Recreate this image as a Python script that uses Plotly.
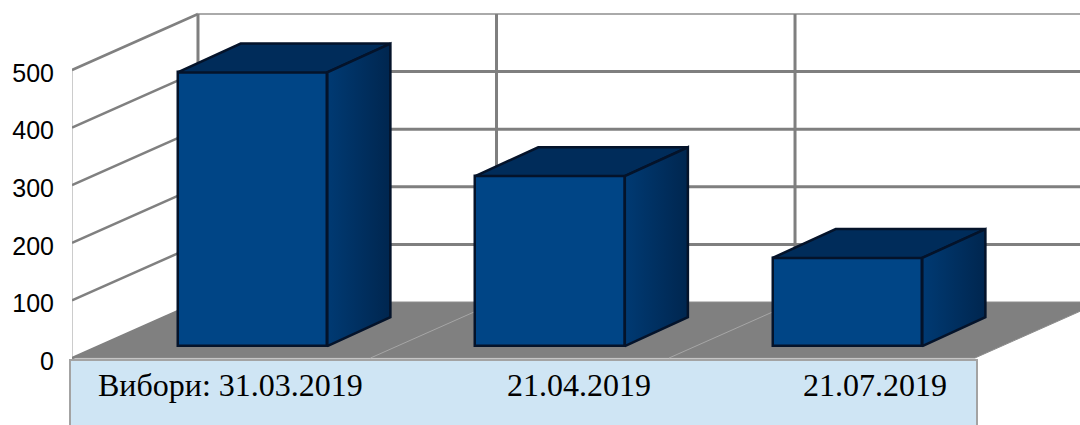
import plotly.graph_objects as go

# chart values
positions = [0, 1, 2]
turnout = [475, 295, 153]
date_labels = ["Вибори: 31.03.2019", "21.04.2019", "21.07.2019"]
y_ticks = [0, 100, 200, 300, 400, 500]

# fake 3d geometry, in axis units
X_RANGE = [-0.6067, 2.7815]
Y_RANGE = [-116.3, 621.5]
WALL_DX = 0.4235
WALL_DY = 97.2
BAR_BASE = 20.8
BAR_WIDTH = 0.503
BAR_DX = 0.212
BAR_DY = 50
CELL_W = 1.0034
FLOOR_W = 3.035

FRONT = "#004586"
EDGE = "#04132a"
GRID = "#7f7f7f"


def polyline(xs, ys, color, width, axes="1"):
    return go.Scatter(
        x=xs, y=ys, mode="lines", line=dict(color=color, width=width),
        hoverinfo="skip", showlegend=False,
        xaxis="x" if axes == "1" else "x2", yaxis="y" if axes == "1" else "y2",
    )


fig = go.Figure()

x0 = X_RANGE[0]
x_back = x0 + WALL_DX
top = y_ticks[-1]

# floor
fig.add_trace(go.Scatter(
    x=[x0, x_back, x_back + FLOOR_W, x0 + FLOOR_W, x0],
    y=[0, WALL_DY, WALL_DY, 0, 0],
    fill="toself", fillcolor="#808080", mode="lines", line=dict(color="#8c8c8c", width=1),
    hoverinfo="skip", showlegend=False,
))

# lines across the floor
for i in [1, 2]:
    fig.add_trace(polyline([x0 + i * CELL_W, x_back + i * CELL_W], [0, WALL_DY], "#a6a6a6", 1))

# left wall
fig.add_trace(polyline([x0, x0], [0, top], "#9a9a9a", 1))
for v in y_ticks:
    fig.add_trace(polyline([x0, x_back], [v, v + WALL_DY], "#808080", 2.5))

# back wall
for v in y_ticks[1:-1]:
    fig.add_trace(polyline([x_back, x_back + FLOOR_W], [v + WALL_DY, v + WALL_DY], GRID, 3))
fig.add_trace(polyline([x_back, x_back + FLOOR_W], [top + WALL_DY, top + WALL_DY], "#aaaaaa", 2))
for i in [0, 1, 2]:
    fig.add_trace(polyline([x_back + i * CELL_W] * 2, [WALL_DY, top + WALL_DY], GRID, 3))

# bars
fig.add_trace(go.Bar(
    x=positions, y=turnout, base=BAR_BASE, width=BAR_WIDTH,
    marker=dict(color=FRONT, line=dict(color=EDGE, width=2.5)),
    xaxis="x2", yaxis="y2", hoverinfo="skip", showlegend=False,
))

for p, v in zip(positions, turnout):
    left = p - BAR_WIDTH / 2
    right = p + BAR_WIDTH / 2
    y_top = BAR_BASE + v
    # top face
    fig.add_trace(go.Scatter(
        x=[left, left + BAR_DX, right + BAR_DX, right, left],
        y=[y_top, y_top + BAR_DY, y_top + BAR_DY, y_top, y_top],
        fill="toself", fillcolor="#002c5a", mode="lines", line=dict(color=EDGE, width=2.5),
        xaxis="x2", yaxis="y2", hoverinfo="skip", showlegend=False,
    ))
    # side face
    fig.add_trace(go.Scatter(
        x=[right, right + BAR_DX, right + BAR_DX, right, right],
        y=[BAR_BASE, BAR_BASE + BAR_DY, y_top + BAR_DY, y_top, BAR_BASE],
        fill="toself", mode="lines", line=dict(color=EDGE, width=2.5),
        fillgradient=dict(type="horizontal", colorscale=[[0, "#003a73"], [1, "#00264f"]]),
        xaxis="x2", yaxis="y2", hoverinfo="skip", showlegend=False,
    ))

fig.update_layout(
    width=1080,
    height=425,
    margin=dict(l=72, r=0, t=0, b=0),
    paper_bgcolor="white",
    plot_bgcolor="white",
    bargap=0,
    xaxis=dict(range=X_RANGE, visible=False),
    yaxis=dict(
        range=Y_RANGE, tickvals=y_ticks, showgrid=False, zeroline=False, showline=False,
        ticks="", ticklabelstandoff=17, ticklabelshift=3,
        tickfont=dict(family="Liberation Sans", size=25, color="black"),
    ),
    xaxis2=dict(range=X_RANGE, visible=False, overlaying="x"),
    yaxis2=dict(range=Y_RANGE, visible=False, overlaying="y"),
)

# label strip under the chart
fig.add_shape(
    type="rect", xref="paper", yref="paper",
    x0=-2 / 1008, x1=905 / 1008, y0=-0.05, y1=65 / 425,
    fillcolor="#cfe5f4", line=dict(color="#a3a3a3", width=2), layer="above",
)
for label, px in zip(date_labels, [230, 579, 875]):
    fig.add_annotation(
        text=label, xref="paper", yref="paper",
        x=(px - 72) / 1008, y=40 / 425, xanchor="center", yanchor="middle", showarrow=False,
        font=dict(family="Liberation Serif", size=32, color="black"),
    )

fig.write_html("out.html", config=dict(displayModeBar=False), post_script="document.body.style.margin='0';")
